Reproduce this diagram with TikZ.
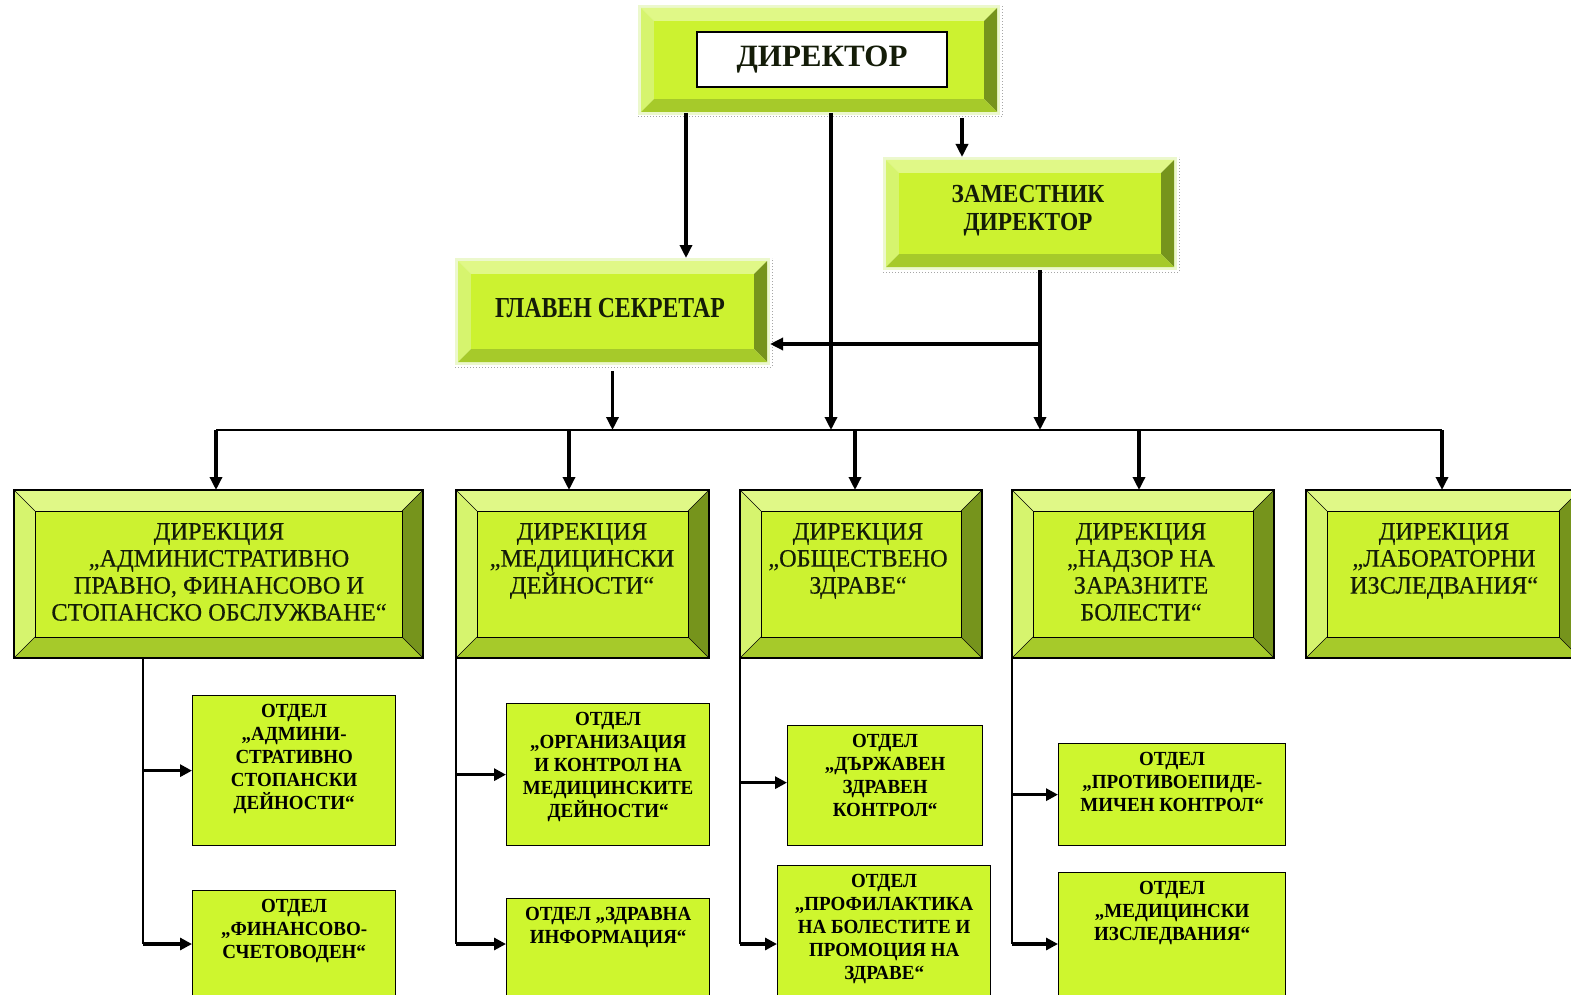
\documentclass[tikz,border=0pt]{standalone}
\usepackage{fontspec}
\setmainfont{Liberation Serif}
\newfontfamily\ftop[FakeStretch=0.82]{Liberation Serif}
\newfontfamily\fzd[FakeStretch=0.9]{Liberation Serif}
\newfontfamily\fmid[FakeStretch=0.975,FakeBold=0.4]{Liberation Serif}
\newfontfamily\fsub[FakeStretch=0.95]{Liberation Serif}
\usetikzlibrary{arrows.meta}
\definecolor{bvF}{RGB}{204,242,48}
\definecolor{bvT}{RGB}{224,248,135}
\definecolor{bvL}{RGB}{214,244,110}
\definecolor{bvR}{RGB}{118,148,28}
\definecolor{bvB}{RGB}{166,202,42}
\definecolor{rim}{RGB}{236,248,205}
\definecolor{subF}{RGB}{206,246,46}
\definecolor{txt}{RGB}{20,28,8}
\newcommand\bevel[5]{%
 \fill[bvT] (#1,#2) -- (#3,#2) -- ({#3-#5},{#2+#5}) -- ({#1+#5},{#2+#5}) -- cycle;
 \fill[bvL] (#1,#2) -- ({#1+#5},{#2+#5}) -- ({#1+#5},{#4-#5}) -- (#1,#4) -- cycle;
 \fill[bvR] (#3,#2) -- (#3,#4) -- ({#3-#5},{#4-#5}) -- ({#3-#5},{#2+#5}) -- cycle;
 \fill[bvB] (#1,#4) -- (#3,#4) -- ({#3-#5},{#4-#5}) -- ({#1+#5},{#4-#5}) -- cycle;
 \fill[bvF] ({#1+#5},{#2+#5}) rectangle ({#3-#5},{#4-#5});
}
\newcommand\bevelline[5]{%
 \draw[line width=1.3pt] (#1,#2) rectangle (#3,#4);
 \draw[line width=1pt] ({#1+#5},{#2+#5}) rectangle ({#3-#5},{#4-#5});
 \draw[line width=0.6pt] (#1,#2) -- ({#1+#5},{#2+#5}) (#3,#2) -- ({#3-#5},{#2+#5})
   (#1,#4) -- ({#1+#5},{#4-#5}) (#3,#4) -- ({#3-#5},{#4-#5});
}
\newcommand\topbox[4]{%
 \fill[rim] (#1,#2) rectangle (#3,#4);
 \bevel{#1+3}{#2+3}{#3-3}{#4-3}{13}
 \draw[gray!70, dotted, line width=1pt] (#1,{#4+2}) -- ({#3+2},{#4+2}) -- ({#3+2},#2);
}
\tikzset{
 hold/.style={inner sep=0pt, outer sep=0pt, draw=none, rectangle},
 conn/.style={line width=3.4pt, -{Triangle[length=13pt,width=12pt]}},
 busln/.style={line width=1.8pt},
 trunkln/.style={line width=1.6pt},
 arr3/.style={line width=3.6pt, -{Triangle[length=12pt,width=12pt]}},
 l3box/.style={draw, line width=1.3pt, fill=subF, inner sep=0pt, anchor=north west},
 l2txt/.style={anchor=north, inner sep=0pt, align=center, text=txt, font=\fmid\fontsize{25}{27}\selectfont},
 l3txt/.style={anchor=north, inner sep=0pt, align=center, text=black, font=\fsub\bfseries\fontsize{20}{23}\selectfont},
 toptxt/.style={inner sep=0pt, align=center, text=txt, font=\ftop\bfseries\fontsize{29}{28}\selectfont}
}
\begin{document}
\begin{tikzpicture}[x=1pt,y=-1pt]
\useasboundingbox (0,0) rectangle (1571,995);
\fill[white] (0,0) rectangle (1571,995);
% ---------- top level ----------
\topbox{638}{5}{1000}{115}
\node[hold, minimum width=362, minimum height=110] (dir) at (819,60) {};
\node[draw, line width=1.6pt, fill=white, minimum width=250, minimum height=55, inner sep=0pt,
      font=\bfseries\fontsize{31}{34}\selectfont, text=txt] (dirlabel) at (822,59.5) {ДИРЕКТОР};
\topbox{883}{157}{1177}{270}
\node[hold, minimum width=294, minimum height=113] (zd) at (1030,213.5) {};
\node[toptxt, font=\fzd\bfseries\fontsize{26}{28}\selectfont] (zdt) at (1028,211) {ЗАМЕСТНИК\\ДИРЕКТОР};
\topbox{455}{258}{770}{365}
\node[hold, minimum width=315, minimum height=107] (gs) at (612.5,311.5) {};
\node[toptxt] (gst) at (610,308) {ГЛАВЕН СЕКРЕТАР};
% ---------- level 2 ----------
\foreach \n/\xa/\xb in {l2a/14/423, l2b/456/709, l2c/740/982, l2d/1012/1274, l2e/1306/1580}{
  \bevel{\xa}{490}{\xb}{658}{21}
  \bevelline{\xa}{490}{\xb}{658}{21}
}
\node[hold, minimum width=409, minimum height=168] (l2a) at (218.5,574) {};
\node[hold, minimum width=253, minimum height=168] (l2b) at (582.5,574) {};
\node[hold, minimum width=242, minimum height=168] (l2c) at (861,574) {};
\node[hold, minimum width=262, minimum height=168] (l2d) at (1143,574) {};
\node[hold, minimum width=274, minimum height=168] (l2e) at (1443,574) {};
\node[l2txt] (t2a) at (219,523) {ДИРЕКЦИЯ\\„АДМИНИСТРАТИВНО\\ПРАВНО, ФИНАНСОВО И\\СТОПАНСКО ОБСЛУЖВАНЕ“};
\node[l2txt] (t2b) at (582,523) {ДИРЕКЦИЯ\\„МЕДИЦИНСКИ\\ДЕЙНОСТИ“};
\node[l2txt] (t2c) at (858,523) {ДИРЕКЦИЯ\\„ОБЩЕСТВЕНО\\ЗДРАВЕ“};
\node[l2txt] (t2d) at (1141,523) {ДИРЕКЦИЯ\\„НАДЗОР НА\\ЗАРАЗНИТЕ\\БОЛЕСТИ“};
\node[l2txt] (t2e) at (1444,523) {ДИРЕКЦИЯ\\„ЛАБОРАТОРНИ\\ИЗСЛЕДВАНИЯ“};
% ---------- level 3 ----------
\node[l3box, minimum width=203, minimum height=150] (a1) at (192,695) {};
\node[l3box, minimum width=203, minimum height=115] (a2) at (192,890) {};
\node[l3box, minimum width=203, minimum height=142] (b1) at (506,703) {};
\node[l3box, minimum width=203, minimum height=107] (b2) at (506,898) {};
\node[l3box, minimum width=195, minimum height=120] (c1) at (787,725) {};
\node[l3box, minimum width=213, minimum height=140] (c2) at (777,865) {};
\node[l3box, minimum width=227, minimum height=102] (d1) at (1058,743) {};
\node[l3box, minimum width=227, minimum height=133] (d2) at (1058,872) {};
\node[l3txt] (ta1) at ([yshift=-9pt]a1.north) {ОТДЕЛ\\„АДМИНИ-\\СТРАТИВНО\\СТОПАНСКИ\\ДЕЙНОСТИ“};
\node[l3txt] (ta2) at ([yshift=-9pt]a2.north) {ОТДЕЛ\\„ФИНАНСОВО-\\СЧЕТОВОДЕН“};
\node[l3txt] (tb1) at ([yshift=-9pt]b1.north) {ОТДЕЛ\\„ОРГАНИЗАЦИЯ\\И КОНТРОЛ НА\\МЕДИЦИНСКИТЕ\\ДЕЙНОСТИ“};
\node[l3txt] (tb2) at ([yshift=-9pt]b2.north) {ОТДЕЛ „ЗДРАВНА\\ИНФОРМАЦИЯ“};
\node[l3txt] (tc1) at ([yshift=-9pt]c1.north) {ОТДЕЛ\\„ДЪРЖАВЕН\\ЗДРАВЕН\\КОНТРОЛ“};
\node[l3txt] (tc2) at ([yshift=-9pt]c2.north) {ОТДЕЛ\\„ПРОФИЛАКТИКА\\НА БОЛЕСТИТЕ И\\ПРОМОЦИЯ НА\\ЗДРАВЕ“};
\node[l3txt] (td1) at ([yshift=-9pt]d1.north) {ОТДЕЛ\\„ПРОТИВОЕПИДЕ-\\МИЧЕН КОНТРОЛ“};
\node[l3txt] (td2) at ([yshift=-9pt]d2.north) {ОТДЕЛ\\„МЕДИЦИНСКИ\\ИЗСЛЕДВАНИЯ“};
% ---------- connectors top ----------
\coordinate (bus) at (0,430);
\coordinate (dGS) at (686,113);
\coordinate (dBus) at (831,113);
\coordinate (dZD) at (962,118);
\coordinate (zdo) at (1040,270);
\coordinate (zj) at (1040,344);
\draw[conn] (dGS) -- (dGS |- gs.north);
\draw[conn] (dBus) -- (dBus |- bus);
\draw[conn] (dZD) -- (dZD |- zd.north);
\draw[conn] (zdo) -- (zdo |- bus);
\draw[conn] (zj) -- (gs.east |- zj);
\draw[conn] ([yshift=-6pt]gs.south) -- (gs.south |- bus);
% bus
\coordinate (pa) at (216,430);
\coordinate (pb) at (569,430);
\coordinate (pc) at (855,430);
\coordinate (pd) at (1139,430);
\coordinate (pe) at (1442,430);
\draw[busln] (pa) -- (pe);
\draw[conn] (pa) -- (pa |- l2a.north);
\draw[conn] (pb) -- (pb |- l2b.north);
\draw[conn] (pc) -- (pc |- l2c.north);
\draw[conn] (pd) -- (pd |- l2d.north);
\draw[conn] (pe) -- (pe |- l2e.north);
% ---------- trunks ----------
\coordinate (low) at (0,944);
\coordinate (ka) at (143,658);
\coordinate (kb) at (456,658);
\coordinate (kc) at (740,658);
\coordinate (kd) at (1012,658);
\draw[trunkln] (ka) -- (ka |- low);
\draw[trunkln] (kb) -- (kb |- low);
\draw[trunkln] (kc) -- (kc |- low);
\draw[trunkln] (kd) -- (kd |- low);
\draw[arr3] (ka |- a1.west) -- (a1.west);
\draw[arr3] (ka |- low) -- (a2.west |- low);
\draw[arr3] (kb |- b1.west) -- (b1.west);
\draw[arr3] (kb |- low) -- (b2.west |- low);
\draw[arr3] ([yshift=3pt]kc |- c1.west) -- ([yshift=3pt]c1.west);
\draw[arr3] (kc |- low) -- (c2.west |- low);
\draw[arr3] (kd |- d1.west) -- (d1.west);
\draw[arr3] (kd |- low) -- (d2.west |- low);
\end{tikzpicture}
\end{document}
